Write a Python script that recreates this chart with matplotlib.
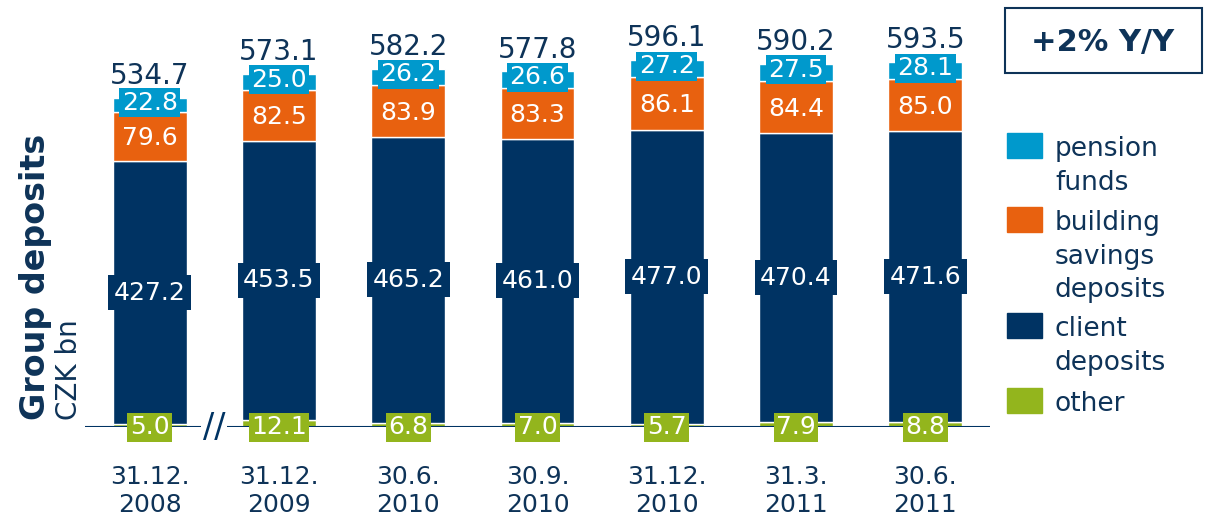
import numpy as np
import matplotlib.pyplot as plt
from matplotlib.patches import Rectangle

# data
dates = ["31.12.\n2008", "31.12.\n2009", "30.6.\n2010", "30.9.\n2010",
         "31.12.\n2010", "31.3.\n2011", "30.6.\n2011"]
other = [5.0, 12.1, 6.8, 7.0, 5.7, 7.9, 8.8]
client = [427.2, 453.5, 465.2, 461.0, 477.0, 470.4, 471.6]
building = [79.6, 82.5, 83.9, 83.3, 86.1, 84.4, 85.0]
pension = [22.8, 25.0, 26.2, 26.6, 27.2, 27.5, 28.1]
totals = [534.7, 573.1, 582.2, 577.8, 596.1, 590.2, 593.5]

navy = "#003363"
orange = "#e8610f"
blue = "#0099cc"
green = "#93b51d"
txt = "#0e3358"

plt.rcParams['font.family'] = 'DejaVu Sans'

fig = plt.figure(figsize=(12.08, 5.19), dpi=100)
ax = fig.add_axes([0.0704, 0.177, 0.749, 0.823])

x = np.arange(len(dates))
w = 0.57
other = np.array(other)
client = np.array(client)
building = np.array(building)
pension = np.array(pension)

ax.bar(x, other, w, color=green, edgecolor="white", linewidth=1)
ax.bar(x, client, w, bottom=other, color=navy, edgecolor="white", linewidth=1)
ax.bar(x, building, w, bottom=other + client, color=orange, edgecolor="white", linewidth=1)
ax.bar(x, pension, w, bottom=other + client + building, color=blue, edgecolor="white", linewidth=1)

ax.axhline(0, color=navy, lw=1.5, zorder=1)

def box(xi, yi, s, c, pad=0.15):
    ax.text(xi, yi, s, ha="center", va="center", color="white", fontsize=18,
            bbox=dict(boxstyle=f"square,pad={pad}", fc=c, ec="none"), zorder=5)

for i in x:
    box(i, 0, f"{other[i]:.1f}", green, 0.1)
    box(i, other[i] + client[i] / 2, f"{client[i]:.1f}", navy, 0.22)
    box(i, other[i] + client[i] + building[i] / 2 - 3, f"{building[i]:.1f}", orange)
    box(i, other[i] + client[i] + building[i] + pension[i] / 2 + 4, f"{pension[i]:.1f}", blue, 0.1)
    ax.text(i, totals[i] + 13, f"{totals[i]:.1f}", ha="center", va="bottom",
            color=txt, fontsize=20)

# axis break
ax.text(0.5, 0, "//", ha="center", va="center", color=navy, fontsize=24,
        bbox=dict(boxstyle="square,pad=0.05", fc="white", ec="none"), zorder=4)

ax.set_xlim(-0.5, 6.5)
ax.set_ylim(0, 694)
ax.set_xticks(x)
ax.set_xticklabels(dates, fontsize=18, color=txt, linespacing=1.22)
ax.tick_params(axis="x", length=0, pad=27)
ax.set_yticks([])
for s in ax.spines.values():
    s.set_visible(False)
ax.patch.set_alpha(0)

# y titles
fig.text(0.029, 0.19, "Group deposits", rotation=90, ha="center", va="bottom",
         fontsize=24, fontweight="bold", color=txt)
fig.text(0.057, 0.19, "CZK bn", rotation=90, ha="center", va="bottom",
         fontsize=20, color=txt)

# legend
items = [(blue, "pension\nfunds", 133), (orange, "building\nsavings\ndeposits", 207),
         (navy, "client\ndeposits", 313), (green, "other", 388)]
for c, lab, ytop in items:
    fig.add_artist(Rectangle((1007 / 1208, 1 - (ytop + 25) / 519), 35 / 1208, 25 / 519,
                             transform=fig.transFigure, color=c))
    fig.text(1055 / 1208, 1 - (ytop + 3) / 519, lab, ha="left", va="top",
             fontsize=19, color=txt, linespacing=1.38)

# Y/Y box
fig.add_artist(Rectangle((1005 / 1208, 1 - 73 / 519), 197 / 1208, 65 / 519,
                         transform=fig.transFigure, fill=False, ec=txt, lw=1.5))
fig.text(1103 / 1208, 1 - 42 / 519, "+2% Y/Y", ha="center", va="center",
         fontsize=22, fontweight="bold", color=txt)

fig.savefig("out.png", dpi=100)
